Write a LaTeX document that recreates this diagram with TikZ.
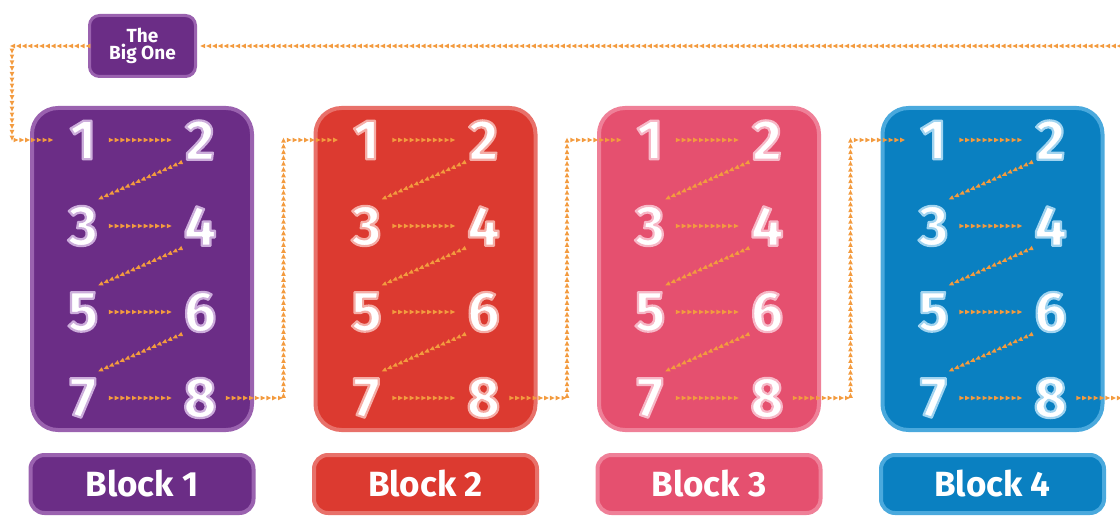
\documentclass[tikz,border=0pt]{standalone}
\usepackage{fontspec}
\setmainfont{Fira Sans}
\usetikzlibrary{decorations.markings,calc}
\definecolor{pfill}{HTML}{6B2D86}
\definecolor{pbord}{HTML}{9A62AF}
\definecolor{rfill}{HTML}{DC3A30}
\definecolor{rbord}{HTML}{E8716A}
\definecolor{kfill}{HTML}{E5506F}
\definecolor{kbord}{HTML}{EF8098}
\definecolor{bfill}{HTML}{0A80C1}
\definecolor{bbord}{HTML}{4AA9DD}
\definecolor{arrowc}{HTML}{F39B3F}
% outlined text: fill white, stroke in given rgb
\newcommand\outlinedtext[2]{\special{pdf:code 2 Tr 1 j 2.2 w #1 RG}#2\special{pdf:code 0 Tr}}
\tikzset{
  chain/.style={postaction={decorate,decoration={markings,
    mark=between positions 0 and 1 step 5.8pt with {\fill[arrowc] (2.4pt,0pt) -- (-2.4pt,2.3pt) -- (-2.4pt,-2.3pt) -- cycle;}}}},
  blockbox/.style={minimum width=220, minimum height=322, rounded corners=26, line width=4, inner sep=0},
  labelbox/.style={minimum width=223, minimum height=58, rounded corners=14, line width=4, inner sep=0,
    text=white, font=\fontsize{35}{35}\selectfont\bfseries},
  bigbox/.style={minimum width=106, minimum height=61, rounded corners=10, line width=3, inner sep=0,
    fill=pfill, draw=pbord, text=white, align=center, font=\fontsize{19}{17}\selectfont\bfseries},
  digit/.style={minimum width=56, inner sep=0, text=white, font=\fontsize{57}{57}\selectfont\bfseries},
}
\begin{document}
\begin{tikzpicture}[x=1pt,y=-1pt]
\useasboundingbox (0,0) rectangle (1120,516);
\foreach \i/\fc/\bc/\oc in {1/pfill/pbord/{0.80 0.68 0.86},2/rfill/rbord/{0.96 0.68 0.65},3/kfill/kbord/{0.97 0.72 0.78},4/bfill/bbord/{0.63 0.83 0.94}}{
  \pgfmathsetmacro{\cx}{142+283.5*(\i-1)}
  \node[blockbox, fill=\fc, draw=\bc] (b\i) at (\cx,269) {};
  \node[labelbox, fill=\fc, draw=\bc] (l\i) at (\cx,484) {Block \i};
  \foreach \r in {0,1,2,3}{
    \pgfmathsetmacro{\ry}{140+86*\r}
    \pgfmathtruncatemacro{\a}{2*\r+1}
    \pgfmathtruncatemacro{\b}{2*\r+2}
    \node[digit] (b\i-\a) at (\cx-59,\ry) {\outlinedtext{\oc}{\a}};
    \node[digit] (b\i-\b) at (\cx+58,\ry) {\outlinedtext{\oc}{\b}};
    \path[chain] (b\i-\a.east) -- (b\i-\b.west);
  }
  \foreach \r in {0,1,2}{
    \pgfmathtruncatemacro{\b}{2*\r+2}
    \pgfmathtruncatemacro{\c}{2*\r+3}
    \path[chain] ([shift={(-20,23)}]b\i-\b.center) -- ([shift={(16,-27)}]b\i-\c.center);
  }
}
\foreach \i in {1,2,3}{
  \pgfmathtruncatemacro{\j}{\i+1}
  \pgfmathsetmacro{\gx}{142+283.5*(\i-1)+141.5}
  \coordinate (g\i) at (\gx,398);
  \path[chain] (b\i-8.east) -| (g\i) |- (b\j-1.west);
}
\node[bigbox] (big) at (142.5,46) {The\\Big One};
\coordinate (exitR) at (1125,46);
\coordinate (lc) at (12,46);
\coordinate (exit4) at (1125,398);
\path[chain] (exitR) -- (big.east);
\path[chain] (big.west) -| (lc) |- (b1-1.west);
\path[chain] (b4-8.east) -- (exit4);
\end{tikzpicture}
\end{document}
